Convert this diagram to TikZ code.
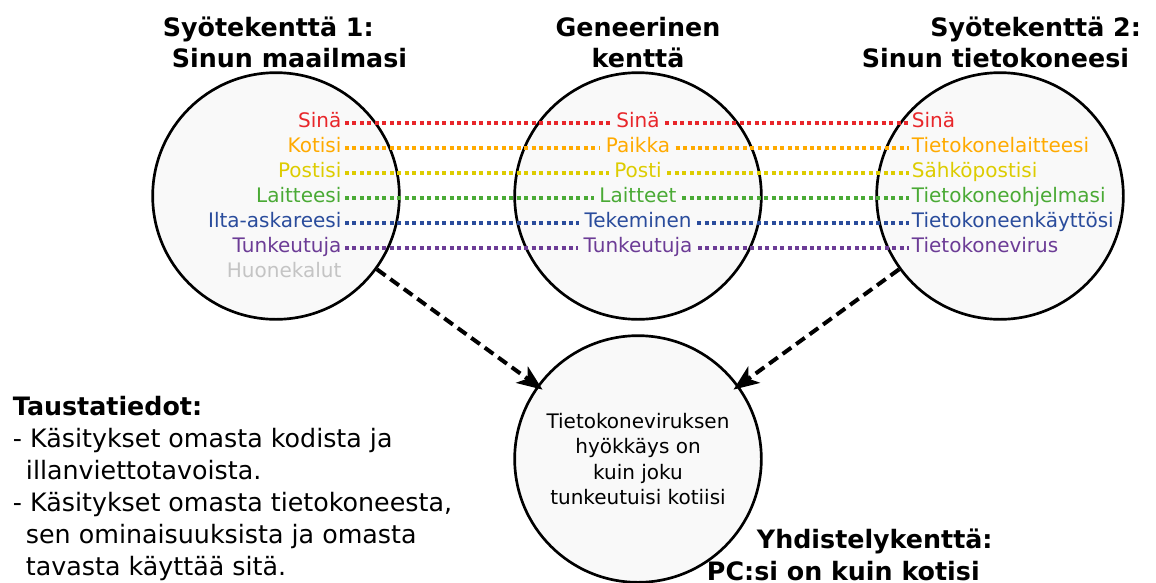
\documentclass[tikz,border=0pt]{standalone}
\usepackage{fontspec}
\setmainfont{DejaVu Sans}
\usepackage{xcolor}
\usetikzlibrary{arrows.meta}
\definecolor{cred}{HTML}{E8262A}
\definecolor{corange}{HTML}{FFAA00}
\definecolor{cyellow}{HTML}{DDCC00}
\definecolor{cgreen}{HTML}{4AAA35}
\definecolor{cblue}{HTML}{2A4C9C}
\definecolor{cpurple}{HTML}{6C3C96}
\definecolor{cgray}{HTML}{C4C4C4}
\definecolor{fieldfill}{HTML}{F9F9F9}

\begin{document}
\begin{tikzpicture}[x=0.75pt,y=-0.75pt,
    field/.style={circle,draw=black,line width=2pt,fill=fieldfill,
      minimum size=185pt,inner sep=0pt},
    lbl/.style={font=\fontsize{15}{19}\selectfont,text height=12pt,
      text depth=3.8pt,inner ysep=0pt},
    lleft/.style={lbl,anchor=east,inner xsep=2.5pt},
    lmid/.style={lbl,inner xsep=4pt},
    lright/.style={lbl,anchor=west,inner xsep=2pt},
    ttl/.style={font=\fontsize{19}{24}\selectfont\bfseries,inner sep=0pt,
      anchor=base west},
    match/.style={line width=3pt,dash pattern=on 3pt off 2.6pt},
    link/.style={line width=3pt,dash pattern=on 8pt off 4.5pt,
      -{Stealth[length=19pt,width=15pt,inset=5pt]},shorten >=-5pt}]
  \useasboundingbox (0,0) rectangle (1156,582);

  \node[field] (s1) at (276,196) {};
  \node[field] (g) at (638,196) {};
  \node[field] (s2) at (1000,196) {};
  \node[field,align=center,font=\fontsize{15}{19}\selectfont] (y) at (638,459)
    {Tietokoneviruksen\\hyökkäys on\\kuin joku\\tunkeutuisi kotiisi};

  \node[ttl] (t1a) at (162.7,36) {Syötekenttä 1:};
  \node[ttl] (t1b) at (171.7,67) {Sinun maailmasi};
  \node[ttl,anchor=base] (t2a) at (638,36) {Geneerinen};
  \node[ttl,anchor=base] (t2b) at (638,67) {kenttä};
  \node[ttl] (t3a) at (930,36) {Syötekenttä 2:};
  \node[ttl] (t3b) at (861.7,67) {Sinun tietokoneesi};
  \node[ttl] (t4a) at (756.7,548) {Yhdistelykenttä:};
  \node[ttl] (t4b) at (706.7,580) {PC:si on kuin kotisi};

  \node[lleft,cred] (a1) at (345,122.5) {Sinä};
  \node[lleft,corange] (a2) at (345,147.5) {Kotisi};
  \node[lleft,cyellow] (a3) at (345,172.5) {Postisi};
  \node[lleft,cgreen] (a4) at (345,197.5) {Laitteesi};
  \node[lleft,cblue] (a5) at (345,222.5) {Ilta-askareesi};
  \node[lleft,cpurple] (a6) at (345,247.5) {Tunkeutuja};
  \node[lleft,cgray] (a7) at (345,272.5) {Huonekalut};

  \node[lmid,cred] (b1) at (638,122.5) {Sinä};
  \node[lmid,corange] (b2) at (638,147.5) {Paikka};
  \node[lmid,cyellow] (b3) at (638,172.5) {Posti};
  \node[lmid,cgreen] (b4) at (638,197.5) {Laitteet};
  \node[lmid,cblue] (b5) at (638,222.5) {Tekeminen};
  \node[lmid,cpurple] (b6) at (638,247.5) {Tunkeutuja};

  \node[lright,cred] (c1) at (909,122.5) {Sinä};
  \node[lright,corange] (c2) at (909,147.5) {Tietokonelaitteesi};
  \node[lright,cyellow] (c3) at (909,172.5) {Sähköpostisi};
  \node[lright,cgreen] (c4) at (909,197.5) {Tietokoneohjelmasi};
  \node[lright,cblue] (c5) at (909,222.5) {Tietokoneenkäyttösi};
  \node[lright,cpurple] (c6) at (909,247.5) {Tietokonevirus};

  \draw[match,cred] (a1) -- (b1) (b1) -- (c1);
  \draw[match,corange] (a2) -- (b2) (b2) -- (c2);
  \draw[match,cyellow] (a3) -- (b3) (b3) -- (c3);
  \draw[match,cgreen] (a4) -- (b4) (b4) -- (c4);
  \draw[match,cblue] (a5) -- (b5) (b5) -- (c5);
  \draw[match,cpurple] (a6) -- (b6) (b6) -- (c6);

  \draw[link] (s1) -- (y);
  \draw[link] (s2) -- (y);

  \node[font=\fontsize{19}{24}\selectfont,align=left,anchor=base west,
    inner sep=0pt] (bg) at (12.7,575)
    {\textbf{Taustatiedot:}\\
     - Käsitykset omasta kodista ja\\
     \hspace*{9.75pt}illanviettotavoista.\\
     - Käsitykset omasta tietokoneesta,\\
     \hspace*{9.75pt}sen ominaisuuksista ja omasta\\
     \hspace*{9.75pt}tavasta käyttää sitä.};
\end{tikzpicture}
\end{document}
